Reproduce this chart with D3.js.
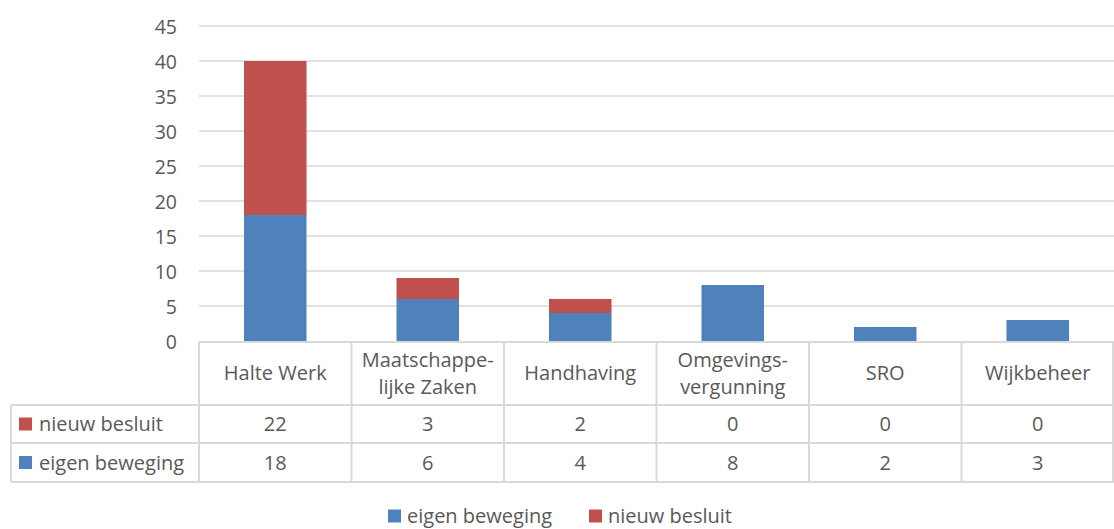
<!DOCTYPE html>
<html lang="nl">
<head>
<meta charset="utf-8">
<title>Besluiten per afdeling</title>
<style>
  body { margin: 0; background: #fff; }
  text { font-family: "Open Sans", sans-serif; fill: #595959; }
</style>
</head>
<body>
<svg width="1114" height="529"></svg>
<script src="https://d3js.org/d3.v7.min.js"></script>
<script>
  var categories = ["Halte Werk", "Maatschappe-|lijke Zaken", "Handhaving", "Omgevings-|vergunning", "SRO", "Wijkbeheer"];
  var eigenBeweging = [18, 6, 4, 8, 2, 3];
  var nieuwBesluit = [22, 3, 2, 0, 0, 0];
  var seriesNames = ["eigen beweging", "nieuw besluit"];
  var seriesColors = ["#4f81bd", "#c0504d"];
  var yTicks = [0, 5, 10, 15, 20, 25, 30, 35, 40, 45];

  var svg = d3.select("svg"),
      plotLeft = 199, plotRight = 1114, plotTop = 26, plotBottom = 341,
      tableLeft = 11, headerBottom = 405, row1Bottom = 443, row2Bottom = 482,
      gridColor = "#d9d9d9", fontSize = "20px";

  var rows = categories.map(function(c, i) {
    return { cat: c, eigen: eigenBeweging[i], nieuw: nieuwBesluit[i] };
  });

  var x = d3.scaleBand().domain(categories).range([plotLeft, plotRight]).paddingInner(0.59).paddingOuter(0.295);
  var xCell = d3.scaleBand().domain(categories).range([plotLeft, plotRight]);
  var y = d3.scaleLinear().domain([0, 45]).range([plotBottom, plotTop]);

  // gridlines
  svg.append("g").selectAll("line")
    .data(yTicks.slice(1))
    .enter().append("line")
    .attr("x1", plotLeft).attr("x2", plotRight)
    .attr("y1", function(d) { return y(d); }).attr("y2", function(d) { return y(d); })
    .attr("stroke", gridColor).attr("stroke-width", 1.5);

  // y axis labels
  var yAxis = svg.append("g")
    .attr("transform", "translate(" + (plotLeft - 22) + ",0)")
    .call(d3.axisLeft(y).tickValues(yTicks).tickSize(0).tickPadding(0));
  yAxis.select(".domain").remove();
  yAxis.attr("font-family", null).attr("font-size", null);
  yAxis.selectAll("text").style("font-size", "19.5px").attr("fill", null).attr("dy", "0.36em");

  // stacked bars
  var stack = d3.stack().keys(["eigen", "nieuw"]);
  var layers = svg.append("g").selectAll("g")
    .data(stack(rows))
    .enter().append("g")
    .attr("fill", function(d, i) { return seriesColors[i]; });

  layers.selectAll("rect")
    .data(function(d) { return d; })
    .enter().append("rect")
    .attr("x", function(d) { return x(d.data.cat); })
    .attr("width", x.bandwidth())
    .attr("y", function(d) { return y(d[1]); })
    .attr("height", function(d) { return y(d[0]) - y(d[1]); });

  // data table
  var tbl = svg.append("g").attr("stroke", gridColor).attr("stroke-width", 2);
  [plotBottom + 1, headerBottom, row1Bottom, row2Bottom].forEach(function(yy, i) {
    tbl.append("line").attr("x1", i === 0 ? plotLeft : tableLeft).attr("x2", plotRight)
      .attr("y1", yy).attr("y2", yy);
  });
  tbl.append("line").attr("x1", tableLeft).attr("x2", tableLeft)
    .attr("y1", headerBottom).attr("y2", row2Bottom);
  categories.forEach(function(c) {
    tbl.append("line").attr("x1", xCell(c)).attr("x2", xCell(c))
      .attr("y1", plotBottom + 1).attr("y2", row2Bottom);
  });
  tbl.append("line").attr("x1", plotRight - 1).attr("x2", plotRight - 1)
    .attr("y1", plotBottom + 1).attr("y2", row2Bottom);

  // category header labels
  categories.forEach(function(c) {
    var lines = c.split("|");
    var cx = xCell(c) + xCell.bandwidth() / 2;
    var t = svg.append("text").attr("x", cx).attr("text-anchor", "middle").style("font-size", fontSize);
    var cy = (plotBottom + headerBottom) / 2 - (lines.length - 1) * 13.5;
    lines.forEach(function(l, i) {
      t.append("tspan").attr("x", cx).attr("y", cy + i * 27).attr("dy", "0.35em").text(l);
    });
  });

  // value rows: nieuw besluit first, then eigen beweging
  var tableRows = [
    { name: seriesNames[1], color: seriesColors[1], vals: nieuwBesluit, cy: (headerBottom + row1Bottom) / 2 },
    { name: seriesNames[0], color: seriesColors[0], vals: eigenBeweging, cy: (row1Bottom + row2Bottom) / 2 }
  ];
  tableRows.forEach(function(r) {
    svg.append("rect").attr("x", tableLeft + 8).attr("y", r.cy - 6.5).attr("width", 13).attr("height", 13).attr("fill", r.color);
    svg.append("text").attr("x", tableLeft + 28).attr("y", r.cy).attr("dy", "0.35em")
      .style("font-size", fontSize).text(r.name);
    r.vals.forEach(function(v, i) {
      svg.append("text").attr("x", xCell(categories[i]) + xCell.bandwidth() / 2).attr("y", r.cy)
        .attr("dy", "0.35em").attr("text-anchor", "middle").style("font-size", fontSize).text(v);
    });
  });

  // legend
  var legend = svg.append("g").attr("transform", "translate(388,516)");
  var lx = [0, 201];
  seriesNames.forEach(function(n, i) {
    legend.append("rect").attr("x", lx[i]).attr("y", -6.5).attr("width", 13).attr("height", 13).attr("fill", seriesColors[i]);
    legend.append("text").attr("x", lx[i] + 19).attr("y", 0).attr("dy", "0.35em").style("font-size", fontSize).text(n);
  });
</script>
</body>
</html>
